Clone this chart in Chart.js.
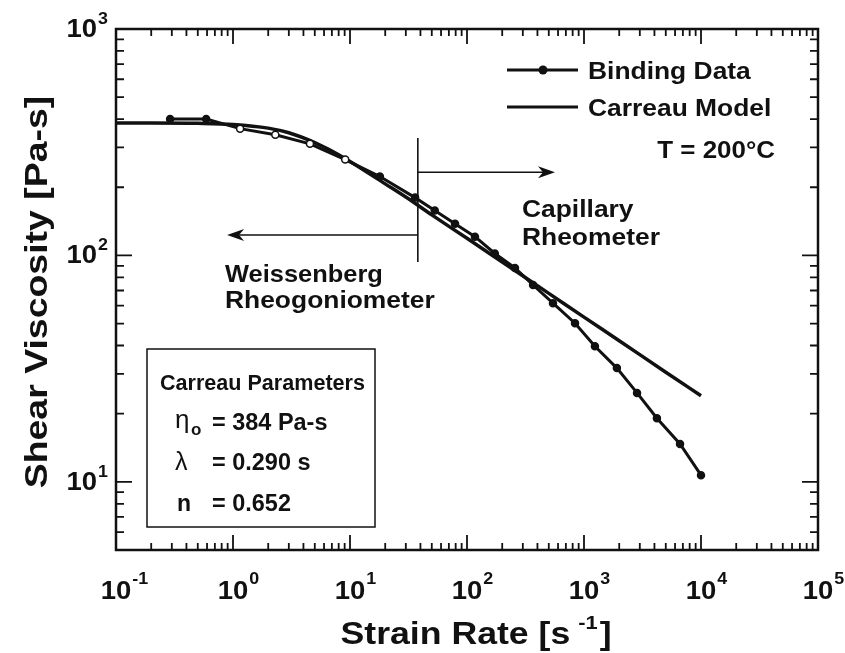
<!DOCTYPE html>
<html>
<head>
<meta charset="utf-8">
<script src="https://cdn.jsdelivr.net/npm/chart.js@4/dist/chart.umd.min.js"></script>
<style>
  body { margin: 0; background: #fff; }
  canvas { display: block; }
</style>
</head>
<body>
<canvas id="chart" width="845" height="653"></canvas>
<script>
// Binding data (strain rate in 1/s, viscosity in Pa-s)
const bindingRate = [0.29, 0.59, 1.15, 2.3, 4.55, 9.1, 18, 36, 53, 79, 117, 173, 257, 367, 543, 838, 1240, 1910, 2840, 4200, 6620, 10000];
const bindingVisc = [400, 400, 363, 341, 311, 265, 223, 180, 158, 138, 121, 102, 88, 74, 61.5, 50.2, 39.7, 31.8, 24.7, 19.1, 14.7, 10.7];

// Carreau model curve
const carreauRate = [0.1, 0.2, 0.5, 1, 2, 3, 5, 7, 10, 20, 30, 50, 100, 200, 500, 1000, 2000, 5000, 10000];
const carreauVisc = [384, 384, 383, 379, 365, 348, 315, 289, 260, 207, 181, 151, 119, 93.5, 68, 53.4, 42, 30.5, 24];

// Tick labels (powers of ten)
const xTickExps = [-1, 0, 1, 2, 3, 4, 5];
const yTickExps = [1, 2, 3];

const carreauParams = ['384 Pa-s', '0.290 s', '0.652'];

const FONT = '"Liberation Sans", Arial, Helvetica, sans-serif';
const INK = '#111';

function txt(ctx, s, x, y, size, o = {}) {
    ctx.save();
    ctx.font = (o.weight || 'bold') + ' ' + size + 'px ' + FONT;
    ctx.translate(x, y);
    if (o.rot) ctx.rotate(o.rot);
    const sx = o.sx || 1;
    ctx.scale(sx, 1);
    ctx.textAlign = o.align || 'left';
    ctx.textBaseline = 'alphabetic';
    ctx.fillStyle = INK;
    ctx.fillText(s, 0, 0);
    ctx.restore();
}

function width(ctx, s, size, o = {}) {
    ctx.save();
    ctx.font = (o.weight || 'bold') + ' ' + size + 'px ' + FONT;
    const w = ctx.measureText(s).width * (o.sx || 1);
    ctx.restore();
    return w;
}

function arrow(ctx, x1, y, x2) {
    const dir = Math.sign(x2 - x1);
    ctx.beginPath();
    ctx.moveTo(x1, y);
    ctx.lineTo(x2 - dir * 12, y);
    ctx.stroke();
    ctx.beginPath();
    ctx.moveTo(x2, y);
    ctx.lineTo(x2 - dir * 17, y - 6);
    ctx.lineTo(x2 - dir * 12, y);
    ctx.lineTo(x2 - dir * 17, y + 6);
    ctx.closePath();
    ctx.fill();
}

// Frame, log ticks, labels and annotations
const decorPlugin = {
    id: 'decor',
    afterDraw(chart) {
        const ctx = chart.ctx;
        const xs = chart.scales.x, ys = chart.scales.y;
        const a = chart.chartArea;
        ctx.save();
        ctx.strokeStyle = INK;
        ctx.fillStyle = INK;

        // frame
        ctx.lineWidth = 2.5;
        ctx.strokeRect(a.left, a.top, a.right - a.left, a.bottom - a.top);

        // x ticks (top and bottom)
        ctx.lineWidth = 1.8;
        for (let e = -1; e <= 4; e++) {
            for (let m = 1; m <= 9; m++) {
                const px = xs.getPixelForValue(m * Math.pow(10, e));
                const len = m === 1 ? 15 : 7;
                ctx.beginPath();
                ctx.moveTo(px, a.bottom); ctx.lineTo(px, a.bottom - len);
                ctx.moveTo(px, a.top); ctx.lineTo(px, a.top + len);
                ctx.stroke();
            }
        }
        // y ticks (left and right)
        for (let e = 0; e <= 2; e++) {
            for (let m = 1; m <= 9; m++) {
                const v = m * Math.pow(10, e);
                if (v < 5) continue;
                const py = ys.getPixelForValue(v);
                const len = m === 1 ? 16 : 8;
                ctx.beginPath();
                ctx.moveTo(a.left, py); ctx.lineTo(a.left + len, py);
                ctx.moveTo(a.right, py); ctx.lineTo(a.right - len, py);
                ctx.stroke();
            }
        }

        // x tick labels
        xTickExps.forEach(e => {
            const px = xs.getPixelForValue(Math.pow(10, e));
            const w = width(ctx, '10', 25, { sx: 1.1 });
            txt(ctx, '10', px, 599, 25, { align: 'center', sx: 1.1 });
            txt(ctx, e < 0 ? '-' + (-e) : String(e), px + w / 2 + 1, 584, 17, { sx: 1.05 });
        });
        // y tick labels
        yTickExps.forEach(e => {
            const py = ys.getPixelForValue(Math.pow(10, e));
            txt(ctx, '10', 97, py + 8, 25, { align: 'right', sx: 1.1 });
            txt(ctx, String(e), 98, py - 5, 17, { sx: 1.05 });
        });

        // axis titles
        const tSize = 31, tsx = 1.15;
        const p1 = 'Strain Rate [s ', p2 = '-1', p3 = ']';
        const w1 = width(ctx, p1, tSize, { sx: tsx });
        const w2 = width(ctx, p2, 19, { sx: tsx });
        const w3 = width(ctx, p3, tSize, { sx: tsx });
        let x0 = 476 - (w1 + w2 + w3) / 2;
        txt(ctx, p1, x0, 644, tSize, { sx: tsx });
        txt(ctx, p2, x0 + w1 - 2, 629, 19, { sx: tsx });
        txt(ctx, p3, x0 + w1 + w2, 644, tSize, { sx: tsx });
        txt(ctx, 'Shear Viscosity [Pa-s]', 47, 292, 32, { rot: -Math.PI / 2, align: 'center', sx: 1.17 });

        // measurement ranges: divider and arrows (data coordinates)
        const vx = xs.getPixelForValue(38);
        ctx.lineWidth = 1.6;
        ctx.beginPath();
        ctx.moveTo(vx, ys.getPixelForValue(330));
        ctx.lineTo(vx, ys.getPixelForValue(93.6));
        ctx.stroke();
        arrow(ctx, vx, ys.getPixelForValue(233), xs.getPixelForValue(565));
        arrow(ctx, vx, ys.getPixelForValue(123), xs.getPixelForValue(0.89));

        txt(ctx, 'Capillary', 522, 217, 24, { sx: 1.1 });
        txt(ctx, 'Rheometer', 522, 245, 24, { sx: 1.1 });
        txt(ctx, 'Weissenberg', 225, 282, 24, { sx: 1.06 });
        txt(ctx, 'Rheogoniometer', 225, 308, 24, { sx: 1.1 });

        // legend
        const ds = chart.data.datasets;
        ctx.lineWidth = 3;
        ctx.beginPath();
        ctx.moveTo(507, 70); ctx.lineTo(578, 70);
        ctx.moveTo(507, 107); ctx.lineTo(578, 107);
        ctx.stroke();
        ctx.beginPath();
        ctx.arc(543, 70, 4.5, 0, Math.PI * 2);
        ctx.fill();
        txt(ctx, ds[0].label, 588, 79, 24, { sx: 1.1 });
        txt(ctx, ds[1].label, 588, 116, 24, { sx: 1.1 });
        txt(ctx, 'T = 200°C', 775, 158, 24, { align: 'right', sx: 1.08 });

        // Carreau parameter box
        ctx.lineWidth = 1.5;
        ctx.strokeRect(147, 349, 228, 178);
        txt(ctx, 'Carreau Parameters', 160, 390, 22, { sx: 0.98 });
        txt(ctx, 'η', 175, 428, 26, { weight: 'normal' });
        txt(ctx, 'o', 191, 435, 17);
        txt(ctx, '= ' + carreauParams[0], 212, 430, 23, { sx: 1.02 });
        txt(ctx, 'λ', 175, 470, 25, { weight: 'normal' });
        txt(ctx, '= ' + carreauParams[1], 212, 470, 23, { sx: 1.02 });
        txt(ctx, 'n', 177, 511, 23);
        txt(ctx, '= ' + carreauParams[2], 212, 511, 23, { sx: 1.02 });

        ctx.restore();
    }
};

const hollow = bindingRate.map((_, i) => (i >= 2 && i <= 5) ? '#fff' : INK);

new Chart(document.getElementById('chart'), {
    type: 'line',
    data: {
        datasets: [
            {
                label: 'Binding Data',
                data: bindingRate.map((x, i) => ({ x: x, y: bindingVisc[i] })),
                borderColor: INK,
                borderWidth: 3,
                pointRadius: 3.5,
                pointBackgroundColor: hollow,
                pointBorderColor: INK,
                pointBorderWidth: 1.5,
                tension: 0
            },
            {
                label: 'Carreau Model',
                data: carreauRate.map((x, i) => ({ x: x, y: carreauVisc[i] })),
                borderColor: INK,
                borderWidth: 3.5,
                pointRadius: 0,
                cubicInterpolationMode: 'monotone'
            }
        ]
    },
    options: {
        responsive: false,
        animation: false,
        devicePixelRatio: 1,
        layout: { padding: { left: 116, right: 27, top: 29, bottom: 103 } },
        scales: {
            x: { type: 'logarithmic', min: 0.1, max: 100000, display: false },
            y: { type: 'logarithmic', min: 5, max: 1000, display: false }
        },
        plugins: {
            legend: { display: false },
            tooltip: { enabled: false }
        }
    },
    plugins: [decorPlugin]
});
</script>
</body>
</html>
